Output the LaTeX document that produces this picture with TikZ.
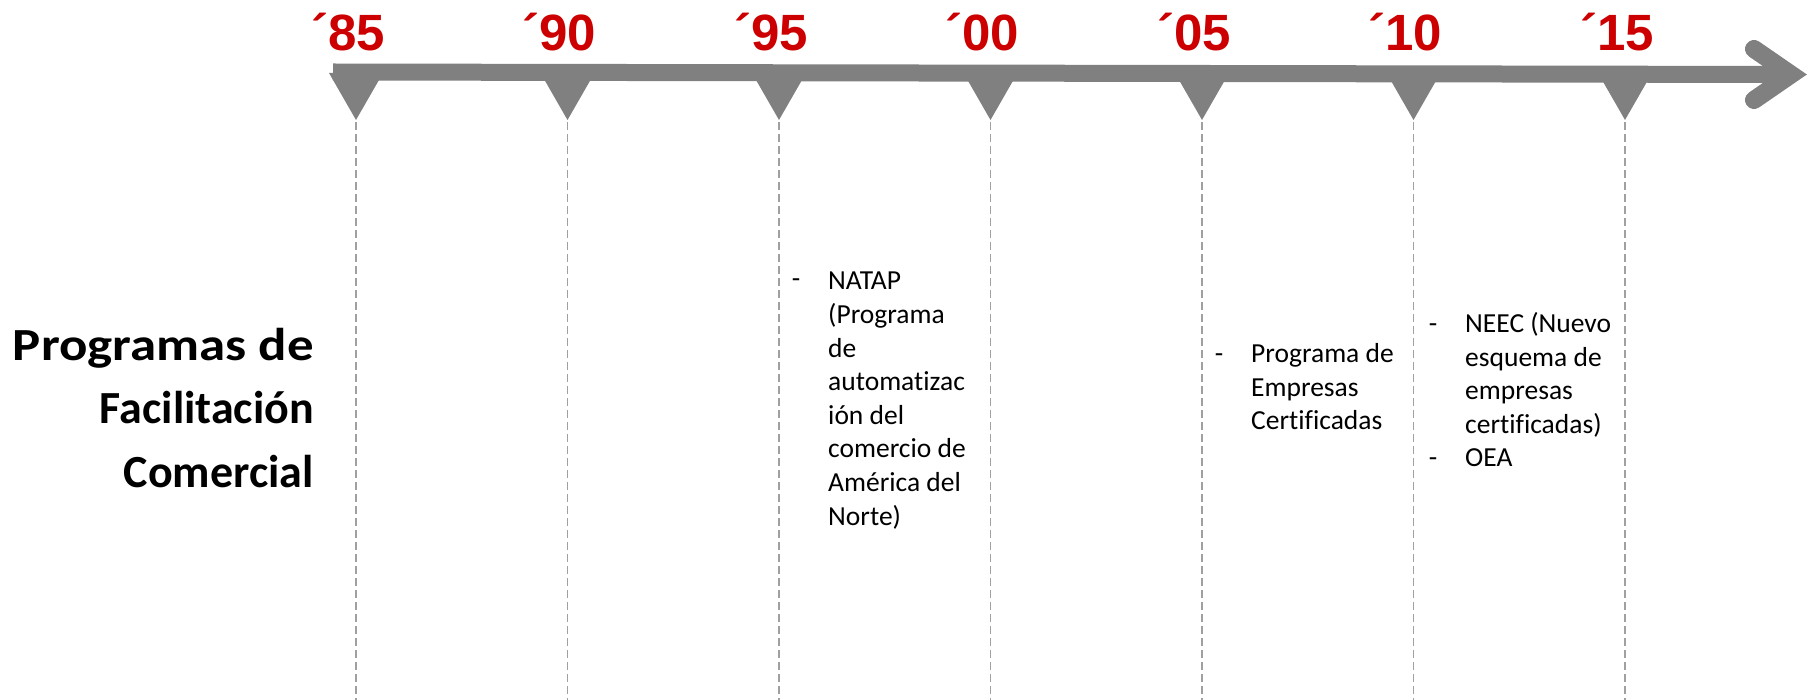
\documentclass[tikz,border=0pt]{standalone}
\usepackage{fontspec}
\setmainfont{Carlito}[Ligatures=NoCommon]
\newfontfamily\yearfont{Liberation Sans}
\usetikzlibrary{calc}

\definecolor{axisgray}{HTML}{808080}
\definecolor{guidegray}{HTML}{A0A0A0}
\definecolor{yearred}{HTML}{CC0000}

\tikzset{
	year/.style={text=yearred, inner sep=0pt, font=\yearfont\bfseries\fontsize{51}{51}\selectfont},
	guide/.style={draw=guidegray, line width=1.5pt, dash pattern=on 8pt off 4pt},
	item/.style={inner sep=0pt, align=left, font=\fontsize{27.5}{33.6}\selectfont},
	itemdash/.style={inner sep=0pt, font=\fontsize{27.5}{33.6}\selectfont}
}

\begin{document}
\begin{tikzpicture}[x=1pt, y=-1pt]
	\useasboundingbox (0,0) rectangle (1808,700);
	
	% axis bar and arrow head
	\coordinate (axisstart) at (333, 72);
	\coordinate (axisend) at (1791, 74.5);
	\draw[axisgray, line width=17pt] (axisstart) -- (axisend);
	\draw[axisgray, line width=18pt, line cap=round, line join=miter] (1754, 49) -- (axisend) -- (1754, 100);
	
	% markers, years and guide lines
	\foreach \yr [count=\i from 0] in {85, 90, 95, 00, 05, 10, 15}
	{
		\coordinate (tick\i) at ({356+211.5*\i}, 73);
		\fill[axisgray] ($(tick\i)+(-27,0)$) -- ($(tick\i)+(27,0)$) -- ($(tick\i)+(0,47)$) -- cycle;
		\draw[guide] ($(tick\i)+(0,49)$) -- ($(tick\i)+(0,627)$);
		\node[year, anchor=base] (year\i) at ($(tick\i)+(-8,-22)$) {´\yr};
	}
	
	% title (anchored on its last line)
	\node[anchor=base east, align=right, inner sep=0pt, font=\bfseries\fontsize{46}{63.5}\selectfont] (title) at (314, 487) {\scalebox{1.15}[1]{Programas de}\\Facilitación\\Comercial};
	
	% programs (anchored on their last lines)
	\node[itemdash, anchor=base] (dash1) at (796, 288) {-};
	\node[item, anchor=base west] (natap) at (828, 525) {NATAP\\(Programa\\de\\automatizac\\ión del\\comercio de\\América del\\Norte)};
	
	\node[itemdash, anchor=base] (dash2) at (1219, 363) {-};
	\node[item, anchor=base west] (pec) at (1251, 430) {Programa de\\Empresas\\Certificadas};
	
	\node[itemdash, anchor=base] (dash3) at (1433, 333) {-};
	\node[item, anchor=base west] (neec) at (1465, 433.5) {NEEC (Nuevo\\esquema de\\empresas\\certificadas)};
	\node[itemdash, anchor=base] (dash4) at (1433, 467) {-};
	\node[item, anchor=base west] (oea) at (1465, 467) {OEA};
\end{tikzpicture}
\end{document}
